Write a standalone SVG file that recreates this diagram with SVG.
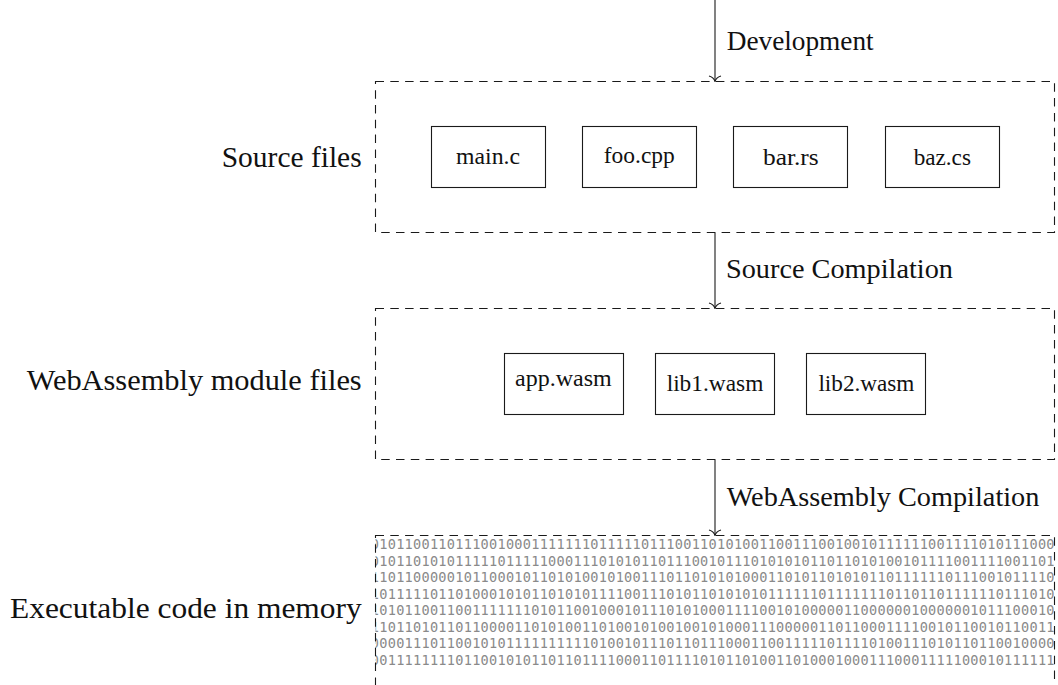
<svg xmlns="http://www.w3.org/2000/svg" width="1058" height="685" viewBox="0 0 1058 685">
  <defs>
    <style>
      .stage{fill:none;stroke:#1a1a1a;stroke-width:1.1;stroke-dasharray:8.5 6.3}
      .file{fill:#fff;stroke:#1a1a1a;stroke-width:1.1}
      .serif{font-family:'Liberation Serif','DejaVu Serif',serif;fill:#111}
      .ftext{font-size:23.5px;text-anchor:middle}
      .stage-label{font-size:29.5px;text-anchor:end}
      .step{font-size:27.5px}
      .bits{font-family:'DejaVu Sans Mono','Liberation Mono',monospace;font-size:13.6px;letter-spacing:0.26px;fill:#8a8a8a}
      .flow{fill:none;stroke:#1a1a1a;stroke-width:1.1;marker-end:url(#to)}
    </style>
    <marker id="to" markerUnits="userSpaceOnUse" viewBox="-8 -8 10 16" refX="0" refY="0" markerWidth="10" markerHeight="16" orient="auto" overflow="visible">
      <path d="M-5.5,-6 Q-4,-1 0,0 Q-4,1 -5.5,6" fill="none" stroke="#1a1a1a" stroke-width="1.1"/>
    </marker>
    <clipPath id="memclip">
      <rect x="375.5" y="535.5" width="679" height="151"/>
    </clipPath>
  </defs>

  <rect width="1058" height="685" fill="#fff"/>

  <!-- pipeline arrows between the stages -->
  <g id="connectors">
    <line class="flow" x1="715" y1="0" x2="715" y2="81.5"/>
    <text class="serif step" x="726.7" y="49.5" textLength="147" lengthAdjust="spacingAndGlyphs">Development</text>
    <line class="flow" x1="715" y1="232.5" x2="715" y2="308.5"/>
    <text class="serif step" x="726" y="278" textLength="227" lengthAdjust="spacingAndGlyphs">Source Compilation</text>
    <line class="flow" x1="715" y1="459.5" x2="715" y2="535.5"/>
    <text class="serif step" x="726.7" y="505.5" textLength="312.7" lengthAdjust="spacingAndGlyphs">WebAssembly Compilation</text>
  </g>

  <!-- stage 1: source files -->
  <g id="source-files">
    <rect class="stage" x="375.5" y="81.5" width="679" height="151"/>
    <text class="serif stage-label" x="361.7" y="167.3" textLength="140" lengthAdjust="spacingAndGlyphs">Source files</text>
  </g>
  <g id="main-c">
    <rect class="file" x="431.5" y="126.5" width="114" height="61"/>
    <text class="serif ftext" x="488" y="164.3" textLength="64" lengthAdjust="spacingAndGlyphs">main.c</text>
  </g>
  <g id="foo-cpp">
    <rect class="file" x="582.5" y="126.5" width="114" height="61"/>
    <text class="serif ftext" x="639.3" y="162.5" textLength="71" lengthAdjust="spacingAndGlyphs">foo.cpp</text>
  </g>
  <g id="bar-rs">
    <rect class="file" x="733.5" y="126.5" width="114" height="61"/>
    <text class="serif ftext" x="790.8" y="164.5" textLength="55.7" lengthAdjust="spacingAndGlyphs">bar.rs</text>
  </g>
  <g id="baz-cs">
    <rect class="file" x="885.5" y="126.5" width="114" height="61"/>
    <text class="serif ftext" x="942.3" y="164.5" textLength="57.3" lengthAdjust="spacingAndGlyphs">baz.cs</text>
  </g>

  <!-- stage 2: WebAssembly modules -->
  <g id="wasm-modules">
    <rect class="stage" x="375.5" y="308.5" width="679" height="151"/>
    <text class="serif stage-label" x="361.7" y="390" textLength="335" lengthAdjust="spacingAndGlyphs">WebAssembly module files</text>
  </g>
  <g id="app-wasm">
    <rect class="file" x="504.5" y="353.5" width="119" height="61"/>
    <text class="serif ftext" x="563.4" y="385.7" textLength="96.7" lengthAdjust="spacingAndGlyphs">app.wasm</text>
  </g>
  <g id="lib1-wasm">
    <rect class="file" x="655.5" y="353.5" width="119" height="61"/>
    <text class="serif ftext" x="715" y="391.2" textLength="96.7" lengthAdjust="spacingAndGlyphs">lib1.wasm</text>
  </g>
  <g id="lib2-wasm">
    <rect class="file" x="806.5" y="353.5" width="119" height="61"/>
    <text class="serif ftext" x="866.4" y="391.2" textLength="96" lengthAdjust="spacingAndGlyphs">lib2.wasm</text>
  </g>

  <!-- stage 3: machine code in memory -->
  <g id="memory">
    <text class="serif stage-label" x="361.7" y="618.3" textLength="351.7" lengthAdjust="spacingAndGlyphs">Executable code in memory</text>
    <g class="bits" clip-path="url(#memclip)">
      <text x="370.8" y="549">010110011011100100011111110111110111001101010011001110010010111111001111010111000</text>
      <text x="370.8" y="565.5">010110101011111011111000111010101101110010111010101011011010100101111001111001101</text>
      <text x="370.8" y="582">110110000010110001011010100101001110110101010001101011010101101111110111001011110</text>
      <text x="370.8" y="598.5">101111101101000101011010101111001110101101010101111110111111101101101111110111010</text>
      <text x="370.8" y="615">101011001100111111101011001000101110101000111100101000001100000010000001011100010</text>
      <text x="370.8" y="631.5">110110101101100001101010011010010100100101000111000001101100011110010110010110011</text>
      <text x="370.8" y="648">000011101100101011111111110100101110110111000110011111011110100111010110110010000</text>
      <text x="370.8" y="664.5">001111111101100101011011011110001101111010110100110100010001110001111100010111111</text>
    </g>
    <rect class="stage" x="375.5" y="535.5" width="679" height="151"/>
  </g>
</svg>
